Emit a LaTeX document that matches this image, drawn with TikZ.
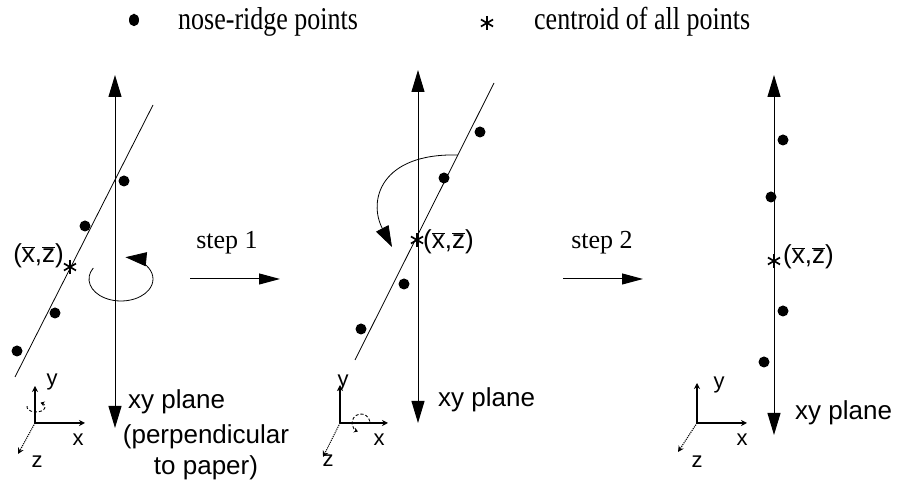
\documentclass[tikz,border=0pt]{standalone}
\usepackage{fontspec}
\setmainfont{Liberation Serif}
\setsansfont{Liberation Sans}
\usetikzlibrary{arrows.meta}
\newcommand\xzbar{(\ensuremath{\overline{\hbox{x}}},\ensuremath{\overline{\hbox{z}}})}
\newcommand\tallText[1]{\scalebox{1}[1.22]{#1}}
\tikzset{
 lbl/.style={font=\sffamily\fontsize{26}{31}\selectfont, inner sep=0pt},
 tlbl/.style={font=\rmfamily\fontsize{26}{31}\selectfont, inner sep=0pt},
 iconlbl/.style={font=\sffamily\fontsize{22}{26}\selectfont, inner sep=0pt},
 dot/.style={circle, fill, inner sep=0pt, minimum size=11pt},
 cstar/.style={circle, inner sep=0pt, minimum size=15pt,
   path picture={\foreach \a in {90,30,150}{\draw[line width=1.7pt] (path picture bounding box.center) ++(\a:7pt) -- ++(\a+180:14pt);}}},
 axisline/.style={line width=1pt, {Triangle[length=22pt,width=13pt]}-{Triangle[length=22pt,width=13pt]}},
 thinline/.style={line width=0.8pt},
 rotarrow/.style={line width=0.8pt, -{Triangle[length=21pt,width=14pt]}},
 steparrow/.style={line width=1pt, -{Triangle[length=21pt,width=11pt]}},
 frameax/.style={line width=1.3pt, -{Stealth[length=6pt,width=6pt]}},
 zax/.style={line width=1.1pt, densely dotted, -{Stealth[length=6pt,width=6pt]}},
 swirl/.style={line width=0.9pt, densely dashed, -{Stealth[length=4pt,width=5pt]}},
}
\begin{document}
\begin{tikzpicture}[x=1pt,y=1pt]
\useasboundingbox (0,0) rectangle (898,486);
% legend
\node[circle, fill, inner sep=0pt, minimum size=10pt, yscale=1.25] (legdot) at (134,466) {};
\node[tlbl, anchor=west] (legdottxt) at (178,464) {\tallText{nose-ridge points}};
\node[cstar] (legstar) at (487,463) {};
\node[tlbl, anchor=west] (legstartxt) at (534,464) {\tallText{centroid of all points}};

% ---------- panel 1 ----------
\coordinate (a1t) at (115,411);
\coordinate (a1b) at (115,58);
\draw[axisline] (a1b) -- (a1t);
\coordinate (l1t) at (153,381);
\coordinate (l1b) at (15,109);
\draw[thinline] (l1b) -- (l1t);
\node[dot] (p11) at (124,305) {};
\node[dot] (p12) at (85,260) {};
\node[dot] (p13) at (55,173) {};
\node[dot] (p14) at (17,135) {};
\node[cstar] (c1) at (70,219) {};
\node[lbl, anchor=east] (c1lbl) at (64,230) {\xzbar};
\draw[rotarrow] (121,207) ++(150:32 and 22) arc[start angle=150, end angle=442, x radius=32, y radius=22];
\node[lbl, anchor=west] (xy1) at (128,84) {xy plane};
\node[lbl] (perp1) at (206,49) {(perpendicular};
\node[lbl] (perp2) at (206,18) {to paper)};
% icon 1
\coordinate (o1) at (35,63);
\coordinate (y1) at (35,100);
\coordinate (x1) at (85,63);
\coordinate (z1) at (18,32);
\draw[frameax] (o1) -- (y1);
\draw[frameax] (o1) -- (x1);
\draw[zax] (o1) -- (z1);
\node[iconlbl] (y1l) at (52,104) {y};
\node[iconlbl] (x1l) at (78,46) {x};
\node[iconlbl] (z1l) at (37,24) {z};
\draw[swirl] (36,79) ++(170:9 and 5) arc[start angle=170, end angle=420, x radius=9, y radius=5];

% step 1
\coordinate (s1a) at (190,207);
\coordinate (s1b) at (280,207);
\draw[steparrow] (s1a) -- (s1b);
\node[tlbl] (s1) at (227,243) {step 1};

% ---------- panel 2 ----------
\coordinate (a2t) at (418,416);
\coordinate (a2b) at (418,63);
\draw[axisline] (a2b) -- (a2t);
\coordinate (l2t) at (494,403);
\coordinate (l2b) at (355,126);
\draw[thinline] (l2b) -- (l2t);
\node[dot] (p21) at (480,354) {};
\node[dot] (p22) at (444,308) {};
\node[dot] (p23) at (404,202) {};
\node[dot] (p24) at (361,157) {};
\node[cstar] (c2) at (417,246) {};
\node[lbl, anchor=west] (c2lbl) at (423,244) {\xzbar};
\coordinate (r2s) at (458,331);
\coordinate (r2e) at (392,239);
\draw[rotarrow] (r2s) .. controls (380,333) and (368,285) .. (r2e);
\node[lbl, anchor=west] (xy2) at (438,86) {xy plane};
% icon 2
\coordinate (o2) at (340,63);
\coordinate (y2) at (340,101);
\coordinate (x2) at (388,63);
\coordinate (z2) at (323,29);
\draw[frameax] (o2) -- (y2);
\draw[frameax] (o2) -- (x2);
\draw[zax] (o2) -- (z2);
\node[iconlbl] (y2l) at (343,103) {y};
\node[iconlbl] (x2l) at (379,46) {x};
\node[iconlbl] (z2l) at (328,25) {z};
\draw[swirl] (361,63) ++(10:9 and 9) arc[start angle=10, end angle=250, x radius=9, y radius=9];

% step 2
\coordinate (s2a) at (563,207);
\coordinate (s2b) at (643,207);
\draw[steparrow] (s2a) -- (s2b);
\node[tlbl] (s2) at (602,243) {step 2};

% ---------- panel 3 ----------
\coordinate (a3t) at (774,411);
\coordinate (a3b) at (774,51);
\draw[axisline] (a3b) -- (a3t);
\node[dot] (p31) at (783,346) {};
\node[dot] (p32) at (771,289) {};
\node[dot] (p33) at (783,175) {};
\node[dot] (p34) at (764,124) {};
\node[cstar] (c3) at (774,225) {};
\node[lbl, anchor=west] (c3lbl) at (783,229) {\xzbar};
\node[lbl, anchor=west] (xy3) at (795,73) {xy plane};
% icon 3
\coordinate (o3) at (697,63);
\coordinate (y3) at (697,103);
\coordinate (x3) at (747,63);
\coordinate (z3) at (678,34);
\draw[frameax] (o3) -- (y3);
\draw[frameax] (o3) -- (x3);
\draw[zax] (o3) -- (z3);
\node[iconlbl] (y3l) at (719,101) {y};
\node[iconlbl] (x3l) at (742,46) {x};
\node[iconlbl] (z3l) at (697,24) {z};
\end{tikzpicture}
\end{document}
